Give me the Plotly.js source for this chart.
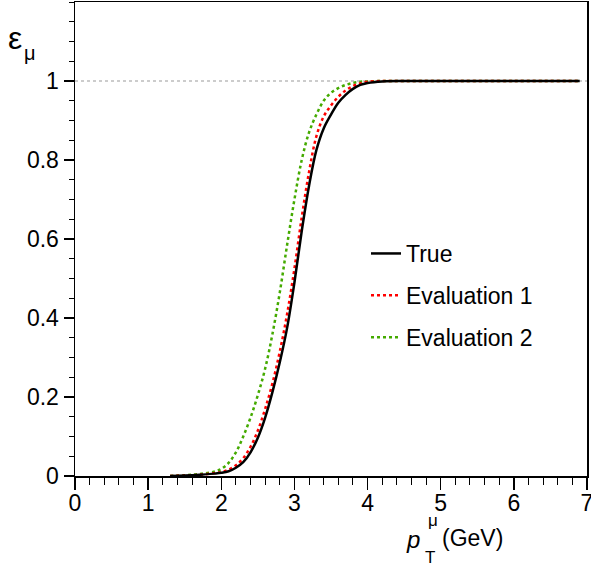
<!DOCTYPE html>
<html>
<head>
<meta charset="utf-8">
<script src="https://cdn.plot.ly/plotly-3.0.1.min.js"></script>
<style>html,body{margin:0;padding:0;background:#fff;}#chart{width:591px;height:566px;}</style>
</head>
<body>
<div id="chart"></div>
<script>
// pT values (GeV)
const pt = [1.3, 1.5, 1.7, 1.9, 2.0, 2.1, 2.2, 2.3, 2.4, 2.5, 2.6, 2.7, 2.8, 2.9, 3.0,
            3.1, 3.2, 3.3, 3.4, 3.5, 3.6, 3.7, 3.8, 3.9, 4.0, 4.2, 4.5, 5.0, 6.0, 6.9];
const effTrue = [0.000, 0.001, 0.003, 0.006, 0.008, 0.012, 0.021, 0.035, 0.060, 0.097, 0.148, 0.213, 0.288, 0.375, 0.49,
                 0.62, 0.735, 0.825, 0.88, 0.915, 0.945, 0.965, 0.98, 0.99, 0.995, 0.999, 1.0, 1.0, 1.0, 1.0];
const effEval1 = [0.000, 0.001, 0.003, 0.007, 0.010, 0.016, 0.027, 0.045, 0.074, 0.115, 0.17, 0.235, 0.315, 0.41, 0.525,
                  0.655, 0.77, 0.86, 0.91, 0.938, 0.96, 0.976, 0.987, 0.994, 0.998, 1.0, 1.0, 1.0, 1.0, 1.0];
const effEval2 = [0.000, 0.002, 0.005, 0.011, 0.018, 0.033, 0.06, 0.1, 0.148, 0.205, 0.272, 0.36, 0.465, 0.585, 0.70,
                  0.80, 0.87, 0.915, 0.95, 0.97, 0.982, 0.99, 0.995, 0.998, 0.999, 1.0, 1.0, 1.0, 1.0, 1.0];
const refX = [0, 7];
const refY = [1, 1];
const seriesNames = ["True", "Evaluation 1", "Evaluation 2"];

const FONT = "Liberation Sans, Arial, Helvetica, sans-serif";

const traces = [
  {x: refX, y: refY, mode: "lines", line: {color: "#999999", width: 1, dash: "dot"}, showlegend: false, hoverinfo: "skip"},
  {x: pt, y: effEval2, mode: "lines", name: seriesNames[2], line: {color: "#44aa00", width: 2.5, dash: "dot", shape: "spline"}, legendrank: 3, legendgroup: "c"},
  {x: pt, y: effEval1, mode: "lines", name: seriesNames[1], line: {color: "#ff0000", width: 2.5, dash: "dot", shape: "spline"}, legendrank: 2, legendgroup: "b"},
  {x: pt, y: effTrue, mode: "lines", name: seriesNames[0], line: {color: "#000000", width: 2.5, shape: "spline"}, legendrank: 1, legendgroup: "a"}
];

const layout = {
  width: 591, height: 566,
  margin: {l: 75, r: 4, t: 2, b: 90},
  paper_bgcolor: "#fff", plot_bgcolor: "#fff",
  font: {family: FONT, size: 23, color: "#000"},
  showlegend: true,
  legend: {x: (366 - 75) / 512, y: (476 - 232) / 474, xanchor: "left", yanchor: "top",
           bgcolor: "rgba(0,0,0,0)", font: {size: 23, family: FONT}, tracegroupgap: 9,
           traceorder: "grouped"},
  xaxis: {range: [0, 7], showgrid: false, zeroline: false, showline: true, mirror: true,
          linecolor: "#000", linewidth: 1.5, ticks: "outside", ticklen: 12, tickwidth: 1.5,
          tickcolor: "#000", dtick: 1, tick0: 0, ticklabeloverflow: "allow", ticklabelstandoff: -6,
          minor: {dtick: 0.2, ticks: "outside", ticklen: 7, tickwidth: 1, tickcolor: "#000", showgrid: false},
          tickfont: {size: 23, family: FONT}, fixedrange: true},
  yaxis: {range: [0, 1.2], showgrid: false, zeroline: false, showline: true, mirror: true,
          linecolor: "#000", linewidth: 1.5, ticks: "outside", ticklen: 10, tickwidth: 1.5,
          tickcolor: "#000", tickvals: [0, 0.2, 0.4, 0.6, 0.8, 1.0],
          ticktext: ["0", "0.2", "0.4", "0.6", "0.8", "1"],
          minor: {dtick: 0.05, ticks: "outside", ticklen: 5, tickwidth: 1, tickcolor: "#000", showgrid: false},
          tickfont: {size: 23, family: FONT}, fixedrange: true},
  annotations: [
    {xref: "paper", yref: "paper", x: (6 - 75) / 512, y: (476 - 38) / 474, xanchor: "left", yanchor: "middle",
     text: "ε", showarrow: false, font: {size: 32, family: FONT}},
    {xref: "paper", yref: "paper", x: (22 - 75) / 512, y: (476 - 53) / 474, xanchor: "left", yanchor: "middle",
     text: "μ", showarrow: false, font: {size: 20, family: FONT}},
    {xref: "paper", yref: "paper", x: (413 - 75) / 512, y: -63 / 474, xanchor: "center", yanchor: "middle",
     text: "<i>p</i>", showarrow: false, font: {size: 24, family: FONT}},
    {xref: "paper", yref: "paper", x: (433 - 75) / 512, y: -44 / 474, xanchor: "center", yanchor: "middle",
     text: "μ", showarrow: false, font: {size: 17, family: FONT}},
    {xref: "paper", yref: "paper", x: (430 - 75) / 512, y: -81 / 474, xanchor: "center", yanchor: "middle",
     text: "T", showarrow: false, font: {size: 17, family: FONT}},
    {xref: "paper", yref: "paper", x: (440 - 75) / 512, y: -62 / 474, xanchor: "left", yanchor: "middle",
     text: "(GeV)", showarrow: false, font: {size: 23, family: FONT}}
  ]
};

Plotly.newPlot("chart", traces, layout, {staticPlot: true, displayModeBar: false});
</script>
</body>
</html>
